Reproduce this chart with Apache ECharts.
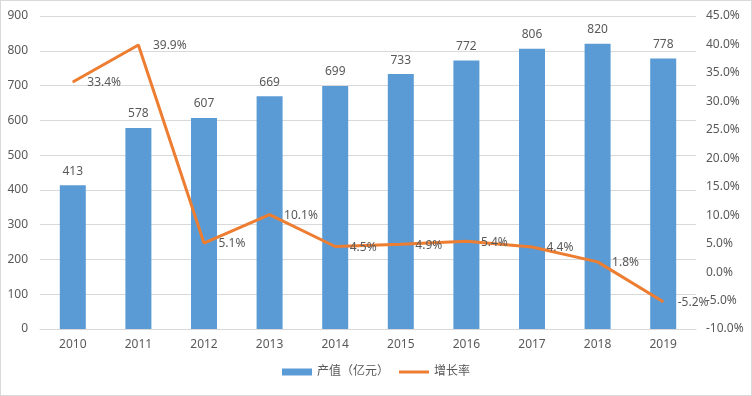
<!DOCTYPE html>
<html>
<head>
<meta charset="utf-8">
<script src="https://cdn.jsdelivr.net/npm/echarts@6/dist/echarts.min.js"></script>
<style>
  html, body { margin: 0; padding: 0; background: #fff; }
  #chart { width: 750px; height: 394px; border: 1px solid #d9d9d9; }
</style>
</head>
<body>
<div id="chart"></div>
<script>
const YEARS = ["2010", "2011", "2012", "2013", "2014", "2015", "2016", "2017", "2018", "2019"];
const OUTPUT_VALUE = [413, 578, 607, 669, 699, 733, 772, 806, 820, 778];
const GROWTH_RATE = [33.4, 39.9, 5.1, 10.1, 4.5, 4.9, 5.4, 4.4, 1.8, -5.2];

const COLORS = {
  bar: "#5B9BD5",
  line: "#ED7D31",
  text: "#595959",
  grid: "#d9d9d9",
};

const FONT = "'Noto Sans', 'Noto Sans CJK SC', sans-serif";

const chart = echarts.init(document.getElementById("chart"), null, { renderer: "canvas" });

chart.setOption({
  backgroundColor: "#ffffff",
  textStyle: { fontFamily: FONT },
  animation: false,
  grid: { left: 39, right: 55, top: 15, bottom: 66 },
  legend: {
    bottom: 12,
    left: "center",
    itemWidth: 30,
    itemHeight: 7,
    itemGap: 10,
    textStyle: { color: COLORS.text, fontSize: 12, fontFamily: FONT },
    data: [
      { name: "产值（亿元）", icon: "rect" },
      { name: "增长率", icon: "path://M0,0 L30,0 L30,3 L0,3 Z" },
    ],
  },
  xAxis: {
    type: "category",
    data: YEARS,
    axisTick: { show: false },
    axisLine: { lineStyle: { color: COLORS.grid } },
    axisLabel: { color: COLORS.text, fontSize: 12, margin: 10 },
  },
  yAxis: [
    {
      type: "value",
      min: 0,
      max: 900,
      interval: 100,
      axisLine: { show: false },
      axisTick: { show: false },
      axisLabel: { color: COLORS.text, fontSize: 12, margin: 12 },
      splitLine: { lineStyle: { color: COLORS.grid } },
    },
    {
      type: "value",
      min: -10,
      max: 45,
      interval: 5,
      axisLine: { show: false },
      axisTick: { show: false },
      axisLabel: {
        color: COLORS.text,
        fontSize: 12,
        margin: 10,
        formatter: (v) => `${v.toFixed(1)}%`,
      },
      splitLine: { show: false },
    },
  ],
  series: [
    {
      name: "产值（亿元）",
      type: "bar",
      data: OUTPUT_VALUE,
      barWidth: 26,
      itemStyle: { color: COLORS.bar },
      label: {
        show: true,
        position: "top",
        distance: 8,
        color: COLORS.text,
        fontSize: 12,
      },
    },
    {
      name: "增长率",
      type: "line",
      yAxisIndex: 1,
      data: GROWTH_RATE,
      symbol: "circle",
      symbolSize: 1,
      showAllSymbol: true,
      itemStyle: { color: COLORS.line },
      lineStyle: { color: COLORS.line, width: 3 },
      label: {
        show: true,
        position: "right",
        distance: 14,
        offset: [0, 1],
        color: COLORS.text,
        fontSize: 12,
        formatter: (p) => `${p.value.toFixed(1)}%`,
      },
      z: 3,
    },
  ],
});
</script>
</body>
</html>
